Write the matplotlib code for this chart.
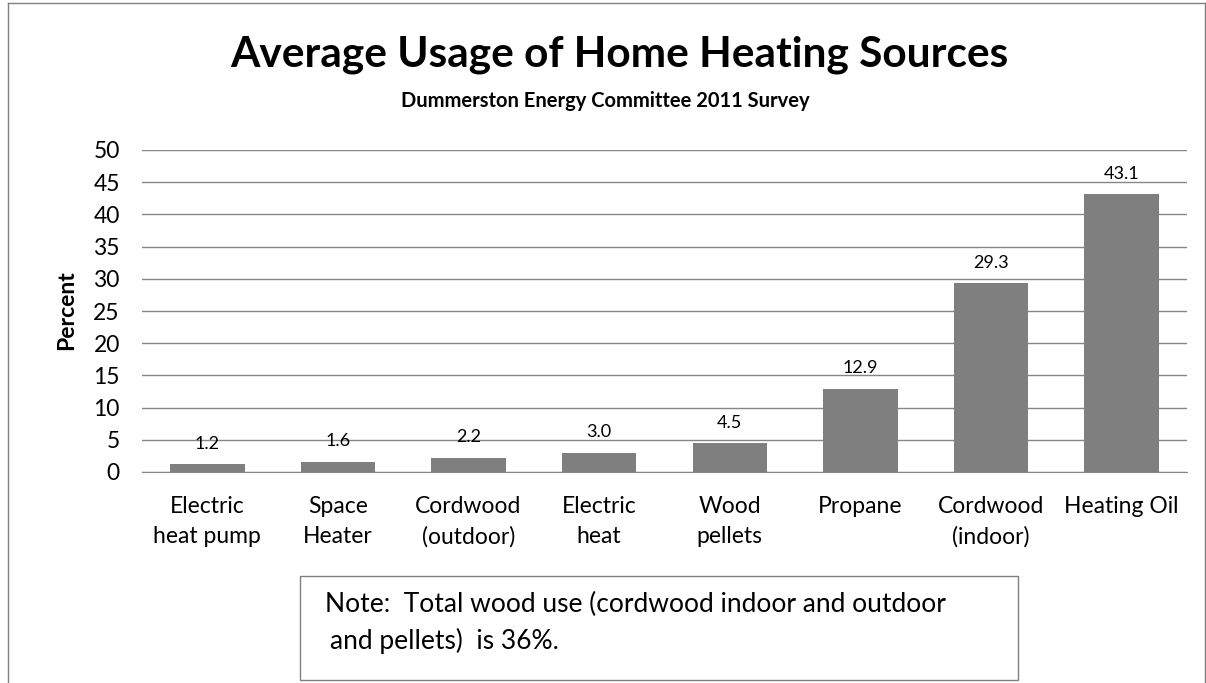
import matplotlib
matplotlib.use("Agg")
import matplotlib.pyplot as plt
from matplotlib.lines import Line2D
from matplotlib.patches import Rectangle

plt.rcParams['font.family'] = ['Lato', 'DejaVu Sans']

categories = ["Electric\nheat pump", "Space\nHeater", "Cordwood\n(outdoor)", "Electric\nheat",
              "Wood\npellets", "Propane", "Cordwood\n(indoor)", "Heating Oil"]
values = [1.2, 1.6, 2.2, 3.0, 4.5, 12.9, 29.3, 43.1]
yticks = [0, 5, 10, 15, 20, 25, 30, 35, 40, 45, 50]

W, H = 1206, 683
fig = plt.figure(figsize=(W / 100, H / 100), dpi=100)

def fx(px):
    return px / W

def fy(py):
    return 1 - py / H

# axes: x 142..1187, y 150..472
ax = fig.add_axes([fx(142), fy(472), fx(1187) - fx(142), fy(150) - fy(472)])
x = list(range(len(categories)))
ax.bar(x, values, width=0.57, color="#7f7f7f", zorder=3)
ax.set_xlim(-0.5, len(categories) - 0.5)
ax.set_ylim(0, 50)
ax.set_yticks(yticks)
ax.set_yticklabels([str(t) for t in yticks], fontsize=16.5)
ax.set_xticks(x)
ax.set_xticklabels(categories, fontsize=16.5, linespacing=1.55)
ax.tick_params(axis='x', length=0, pad=17)
ax.tick_params(axis='y', length=0, pad=16)
ax.grid(axis='y', color="#868686", linewidth=1, zorder=0)
for s in ["top", "right", "left"]:
    ax.spines[s].set_visible(False)
ax.spines["bottom"].set_color("#868686")
fig.text(fx(67), fy(310), "Percent", rotation=90, ha="center", va="center",
         fontsize=16.5, fontweight="bold")

for xi, v in zip(x, values):
    ax.annotate(f"{v:.1f}", (xi, v), xytext=(0, 9), textcoords="offset points",
                ha="center", va="bottom", fontsize=13)

fig.text(0.5 * (fx(232) + fx(1007)), fy(67), "Average Usage of Home Heating Sources",
         ha="center", va="baseline", fontsize=30.5, fontweight="bold")
fig.text(0.5 * (fx(400) + fx(810)), fy(107), "Dummerston Energy Committee 2011 Survey",
         ha="center", va="baseline", fontsize=14.5, fontweight="bold")

# note box
fig.patches.append(Rectangle((fx(300), fy(680)), fx(1018) - fx(300), fy(576) - fy(680),
                             transform=fig.transFigure, fill=False, edgecolor="#808080",
                             linewidth=1))
fig.text(fx(325), fy(612), "Note:  Total wood use (cordwood indoor and outdoor",
         ha="left", va="baseline", fontsize=19)
fig.text(fx(330), fy(649), "and pellets)  is 36%.", ha="left", va="baseline", fontsize=19)

# outer frame
for (x0, y0, x1, y1) in [(8, 3, 8, 683), (8, 3, 1205, 3), (1205, 3, 1205, 683)]:
    fig.add_artist(Line2D([fx(x0), fx(x1)], [fy(y0), fy(y1)], transform=fig.transFigure,
                          color="#808080", linewidth=1))

fig.savefig("out.png", dpi=100)
